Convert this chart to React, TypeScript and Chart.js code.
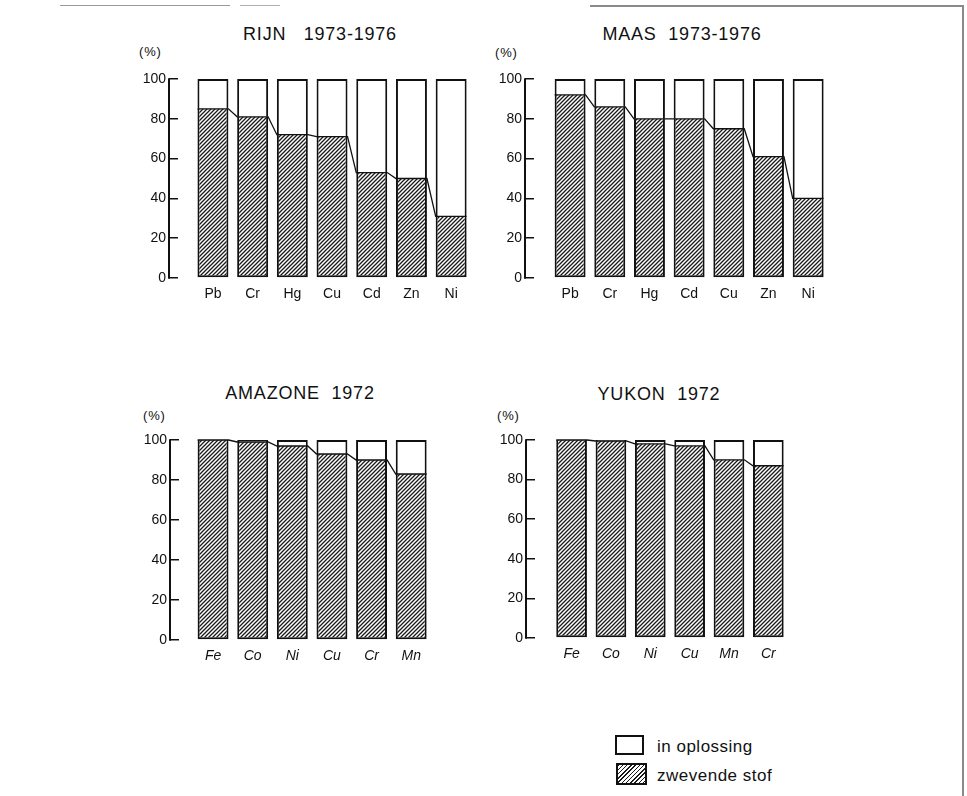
import React, { useEffect, useRef } from 'react';
import { Chart, registerables } from 'chart.js';

Chart.register(...registerables);

// ---- data ----
const rijnMetals = ['Pb', 'Cr', 'Hg', 'Cu', 'Cd', 'Zn', 'Ni'];
const rijnSuspended = [85, 81, 72, 71, 53, 50, 31];
const rijnDissolved = [15, 19, 28, 29, 47, 50, 69];

const maasMetals = ['Pb', 'Cr', 'Hg', 'Cd', 'Cu', 'Zn', 'Ni'];
const maasSuspended = [92, 86, 80, 80, 75, 61, 40];
const maasDissolved = [8, 14, 20, 20, 25, 39, 60];

const amazoneMetals = ['Fe', 'Co', 'Ni', 'Cu', 'Cr', 'Mn'];
const amazoneSuspended = [100, 99, 97, 93, 90, 83];
const amazoneDissolved = [0, 1, 3, 7, 10, 17];

const yukonMetals = ['Fe', 'Co', 'Ni', 'Cu', 'Mn', 'Cr'];
const yukonSuspended = [100, 99.5, 98, 97, 90, 87];
const yukonDissolved = [0, 0.5, 2, 3, 10, 13];

const yTicks = [0, 20, 40, 60, 80, 100];

const legendLabels = ['in oplossing', 'zwevende stof'];

const FONT = '"Liberation Sans", Arial, Helvetica, sans-serif';
const INK = '#111';

function makeHatch(): CanvasPattern | string {
  const c = document.createElement('canvas');
  c.width = 4;
  c.height = 4;
  const g = c.getContext('2d');
  if (!g) return '#777';
  g.fillStyle = '#fff';
  g.fillRect(0, 0, 4, 4);
  g.strokeStyle = '#1a1a1a';
  g.lineWidth = 1.3;
  g.beginPath();
  g.moveTo(0, 4);
  g.lineTo(4, 0);
  g.moveTo(-1, 1);
  g.lineTo(1, -1);
  g.moveTo(3, 5);
  g.lineTo(5, 3);
  g.stroke();
  return g.createPattern(c, 'repeat') || '#777';
}

const decorPlugin = {
  id: 'decor',
  afterDatasetsDraw(chart: any) {
    const ctx = chart.ctx;
    const y = chart.scales.y;
    const meta = chart.getDatasetMeta(0);
    ctx.save();
    ctx.strokeStyle = INK;
    ctx.lineWidth = 1.3;
    ctx.beginPath();
    meta.data.forEach((bar: any, i: number) => {
      const p = bar.getProps(['x', 'y', 'width'], true);
      const l = p.x - p.width / 2;
      const r = p.x + p.width / 2;
      if (i === 0) ctx.moveTo(l, p.y);
      else ctx.lineTo(l, p.y);
      ctx.lineTo(r, p.y);
    });
    ctx.stroke();
    // vertical axis line at the outer end of the (inward-pointing) tick marks
    const ax = y.right - y.options.grid.tickLength;
    ctx.lineWidth = 2;
    ctx.beginPath();
    ctx.moveTo(ax, y.getPixelForValue(100) - 0.75);
    ctx.lineTo(ax, y.getPixelForValue(0) + 0.75);
    ctx.stroke();
    ctx.restore();
  },
};

type PanelProps = {
  metals: string[];
  suspended: number[];
  dissolved: number[];
  area: { left: number; top: number; right: number; bottom: number };
  xMin: number;
  xMax: number;
  italic?: boolean;
};

const Y_W = 45;
const X_H = 30;
const PAD_T = 12;
const PAD_R = 5;

function Panel({ metals, suspended, dissolved, area, xMin, xMax, italic }: PanelProps) {
  const ref = useRef<HTMLCanvasElement>(null);
  const L = area.left - Y_W;
  const T = area.top - PAD_T;
  const W = area.right + PAD_R - L;
  const H = area.bottom + X_H - T;

  useEffect(() => {
    if (!ref.current) return;
    const hatch = makeHatch();
    const tickFont = { family: FONT, size: 14 };
    const chart = new Chart(ref.current, {
      type: 'bar',
      data: {
        datasets: [
          {
            label: legendLabels[1],
            data: suspended.map((v, i) => ({ x: i, y: v })),
            backgroundColor: hatch as any,
            borderColor: INK,
            borderWidth: { left: 2, right: 2, bottom: 2, top: 0 },
            borderSkipped: false,
            barPercentage: 0.78,
            categoryPercentage: 1,
          },
          {
            label: legendLabels[0],
            data: dissolved.map((v, i) => ({ x: i, y: v })),
            backgroundColor: '#fff',
            borderColor: INK,
            borderWidth: { left: 2, right: 2, top: 2, bottom: 0 },
            borderSkipped: false,
            barPercentage: 0.78,
            categoryPercentage: 1,
          },
        ],
      },
      options: {
        responsive: false,
        animation: false,
        events: [],
        layout: { padding: { top: PAD_T, right: PAD_R, left: 0, bottom: 0 } },
        plugins: {
          legend: { display: false },
          tooltip: { enabled: false },
          title: { display: false },
        },
        scales: {
          x: {
            type: 'linear',
            offset: false,
            stacked: true,
            min: xMin,
            max: xMax,
            afterBuildTicks: (s: any) => {
              s.ticks = metals.map((_, i) => ({ value: i }));
            },
            afterFit: (s: any) => {
              s.height = X_H;
            },
            grid: { display: false, drawTicks: false, offset: false },
            border: { display: false },
            ticks: {
              autoSkip: false,
              maxRotation: 0,
              padding: 8,
              color: INK,
              font: { ...tickFont, style: italic ? 'italic' : 'normal' },
              callback: (v: any) => metals[v] ?? '',
            },
          },
          y: {
            stacked: true,
            min: 0,
            max: 100,
            afterBuildTicks: (s: any) => {
              s.ticks = yTicks.map((v) => ({ value: v }));
            },
            afterFit: (s: any) => {
              s.width = Y_W;
            },
            grid: {
              drawOnChartArea: false,
              drawTicks: true,
              tickLength: 9,
              color: INK,
              lineWidth: 1.5,
            },
            border: { display: false },
            ticks: { padding: 3, color: INK, font: tickFont },
          },
        },
      } as any,
      plugins: [decorPlugin],
    });
    return () => chart.destroy();
  }, []);

  return (
    <canvas
      ref={ref}
      width={W}
      height={H}
      style={{ position: 'absolute', left: L, top: T, width: W, height: H }}
    />
  );
}

function Label({ text, left, top, size, center, spacing }: { text: string; left: number; top: number; size: number; center?: boolean; spacing?: number }) {
  const style: React.CSSProperties = {
    position: 'absolute',
    top,
    fontFamily: FONT,
    fontSize: size,
    lineHeight: `${size}px`,
    color: INK,
    whiteSpace: 'pre',
    letterSpacing: spacing ?? 0,
  };
  if (center) {
    style.left = left - 200;
    style.width = 400;
    style.textAlign = 'center';
  } else {
    style.left = left;
  }
  return <div style={style}>{text}</div>;
}

export default function App() {
  return (
    <div style={{ position: 'absolute', left: 0, top: 0, width: 967, height: 796, background: '#fff', overflow: 'hidden' }}>
      {/* scan frame fragments */}
      <div style={{ position: 'absolute', left: 590, top: 5, width: 373, height: 1.5, background: '#8a8a8a' }} />
      <div style={{ position: 'absolute', left: 962, top: 5, width: 1.5, height: 791, background: '#8a8a8a' }} />
      <div style={{ position: 'absolute', left: 60, top: 5, width: 170, height: 1, background: '#9a9a9a' }} />
      <div style={{ position: 'absolute', left: 240, top: 5, width: 40, height: 1, background: '#b0b0b0' }} />

      <Label text={'RIJN   1973-1976'} left={320} top={25} size={18} center spacing={0.8} />
      <Label text={'MAAS  1973-1976'} left={682} top={25} size={18} center spacing={0.8} />
      <Label text={'AMAZONE  1972'} left={300} top={384} size={18} center spacing={0.8} />
      <Label text={'YUKON  1972'} left={659} top={385} size={18} center spacing={0.8} />

      <Label text={'(%)'} left={139} top={45} size={13} spacing={0.8} />
      <Label text={'(%)'} left={495} top={46} size={13} spacing={0.8} />
      <Label text={'(%)'} left={143} top={409} size={13} spacing={0.8} />
      <Label text={'(%)'} left={497} top={409} size={13} spacing={0.8} />

      <Panel metals={rijnMetals} suspended={rijnSuspended} dissolved={rijnDissolved}
        area={{ left: 178, top: 79, right: 471, bottom: 278 }} xMin={-0.88} xMax={6.5} />
      <Panel metals={maasMetals} suspended={maasSuspended} dissolved={maasDissolved}
        area={{ left: 534, top: 79, right: 828, bottom: 278 }} xMin={-0.91} xMax={6.5} />
      <Panel metals={amazoneMetals} suspended={amazoneSuspended} dissolved={amazoneDissolved}
        area={{ left: 179, top: 440, right: 431, bottom: 640 }} xMin={-0.86} xMax={5.5} italic />
      <Panel metals={yukonMetals} suspended={yukonSuspended} dissolved={yukonDissolved}
        area={{ left: 535, top: 440, right: 788, bottom: 638 }} xMin={-0.93} xMax={5.5} italic />

      {/* legend */}
      <div style={{ position: 'absolute', left: 615, top: 735, width: 29, height: 20, boxSizing: 'border-box', border: `2px solid ${INK}`, background: '#fff' }} />
      <div style={{ position: 'absolute', left: 616, top: 763, width: 31, height: 22, boxSizing: 'border-box', border: `2px solid ${INK}`, background: 'repeating-linear-gradient(135deg, #1a1a1a 0px, #1a1a1a 1px, #fff 1px, #fff 3px)' }} />
      <Label text={legendLabels[0]} left={657} top={738} size={17} spacing={0.5} />
      <Label text={legendLabels[1]} left={657} top={767} size={17} spacing={0.5} />
    </div>
  );
}
